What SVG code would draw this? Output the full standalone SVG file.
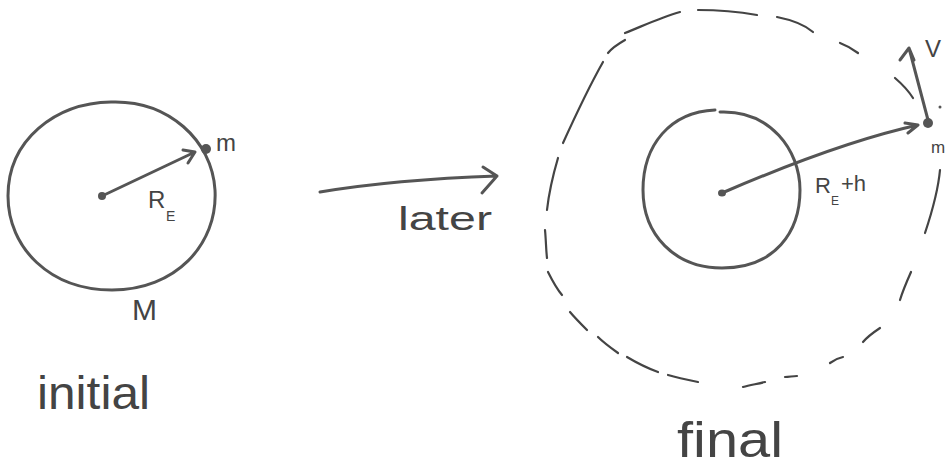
<svg xmlns="http://www.w3.org/2000/svg" width="950" height="470" viewBox="0 0 950 470">
<style>
.ink{fill:none;stroke:#555;stroke-width:3;stroke-linecap:round;stroke-linejoin:round}
.dash{fill:none;stroke:#444;stroke-width:2.2;stroke-linecap:round}
.dot{fill:#555}
.t{font-family:"Liberation Sans",Arial,sans-serif;fill:#444}
</style>
<rect width="950" height="470" fill="#fff"/>
<g id="initial">
<path class="ink" d="M111,102 C168,100 212,140 215,190 C218,245 175,290 112,290 C50,290 8,248 8,196 C8,140 55,103 111,102 Z"/>
<ellipse class="dot" cx="102" cy="196" rx="4" ry="4"/>
<path class="ink" d="M102,196 L195,152 M183,150 L195,152 L188,163"/>
<ellipse class="dot" cx="206" cy="149" rx="5" ry="5"/>
<text class="t" x="216" y="151" font-size="24">m</text>
<text class="t" x="148" y="208" font-size="24">R</text>
<text class="t" x="166" y="221" font-size="14">E</text>
<text class="t" x="132" y="320" font-size="30">M</text>
<text class="t" x="37" y="409" font-size="46" textLength="113" lengthAdjust="spacingAndGlyphs">initial</text>
</g>
<g id="later">
<path class="ink" d="M320,192 C380,182 440,178 497,176 M483,167 L497,176 L482,193"/>
<text class="t" x="398" y="230" font-size="34" textLength="94" lengthAdjust="spacingAndGlyphs">later</text>
</g>
<g id="final">
<path class="ink" d="M720,112 C770,110 800,150 800,190 C800,232 775,268 722,268 C675,268 643,235 643,190 C643,145 670,112 715,110"/>
<ellipse class="dot" cx="722" cy="193" rx="4" ry="3.5"/>
<path class="ink" d="M722,193 C780,168 850,140 918,125 M905,123 L918,125 L908,133"/>
<ellipse class="dot" cx="928" cy="123" rx="5" ry="5"/>
<path class="ink" d="M928,120 L909,48 M900,60 L909,48 L914,60"/>
<circle class="dot" cx="940" cy="107" r="1.5"/>
<text class="t" x="925" y="57" font-size="24">V</text>
<text class="t" x="931" y="153" font-size="17">m</text>
<text class="t" x="815" y="193" font-size="22">R</text>
<text class="t" x="831" y="205" font-size="12">E</text>
<text class="t" x="841" y="191" font-size="22">+h</text>
<text class="t" x="677" y="457" font-size="50" textLength="106" lengthAdjust="spacingAndGlyphs">final</text>
<g id="orbit">
<path class="dash" d="M698,10 C720,10 740,12 757,15"/>
<path class="dash" d="M777,17 C792,20 805,25 813,32"/>
<path class="dash" d="M840,43 C848,46 854,50 858,53"/>
<path class="dash" d="M895,78 C902,84 908,90 913,98"/>
<path class="dash" d="M625,33 C645,25 662,17 680,12"/>
<path class="dash" d="M625,40 C618,44 612,48 608,53"/>
<path class="dash" d="M603,62 C590,85 578,110 563,143"/>
<path class="dash" d="M558,158 C553,175 549,192 547,210"/>
<path class="dash" d="M545,230 C546,240 546,250 547,258"/>
<path class="dash" d="M548,272 C552,280 556,288 562,295"/>
<path class="dash" d="M570,312 C575,318 581,324 587,330"/>
<path class="dash" d="M598,337 C604,343 611,348 618,353"/>
<path class="dash" d="M627,357 C637,363 647,368 658,372"/>
<path class="dash" d="M668,375 C678,378 688,380 698,382"/>
<path class="dash" d="M743,387 C750,385 757,384 765,382"/>
<path class="dash" d="M785,377 C789,377 793,376 797,376"/>
<path class="dash" d="M830,363 C834,360 838,358 843,357"/>
<path class="dash" d="M863,342 C868,336 874,332 880,328"/>
<path class="dash" d="M900,300 C903,290 907,281 911,272"/>
<path class="dash" d="M940,170 C938,192 932,212 925,233"/>
</g>
</g>
</svg>
